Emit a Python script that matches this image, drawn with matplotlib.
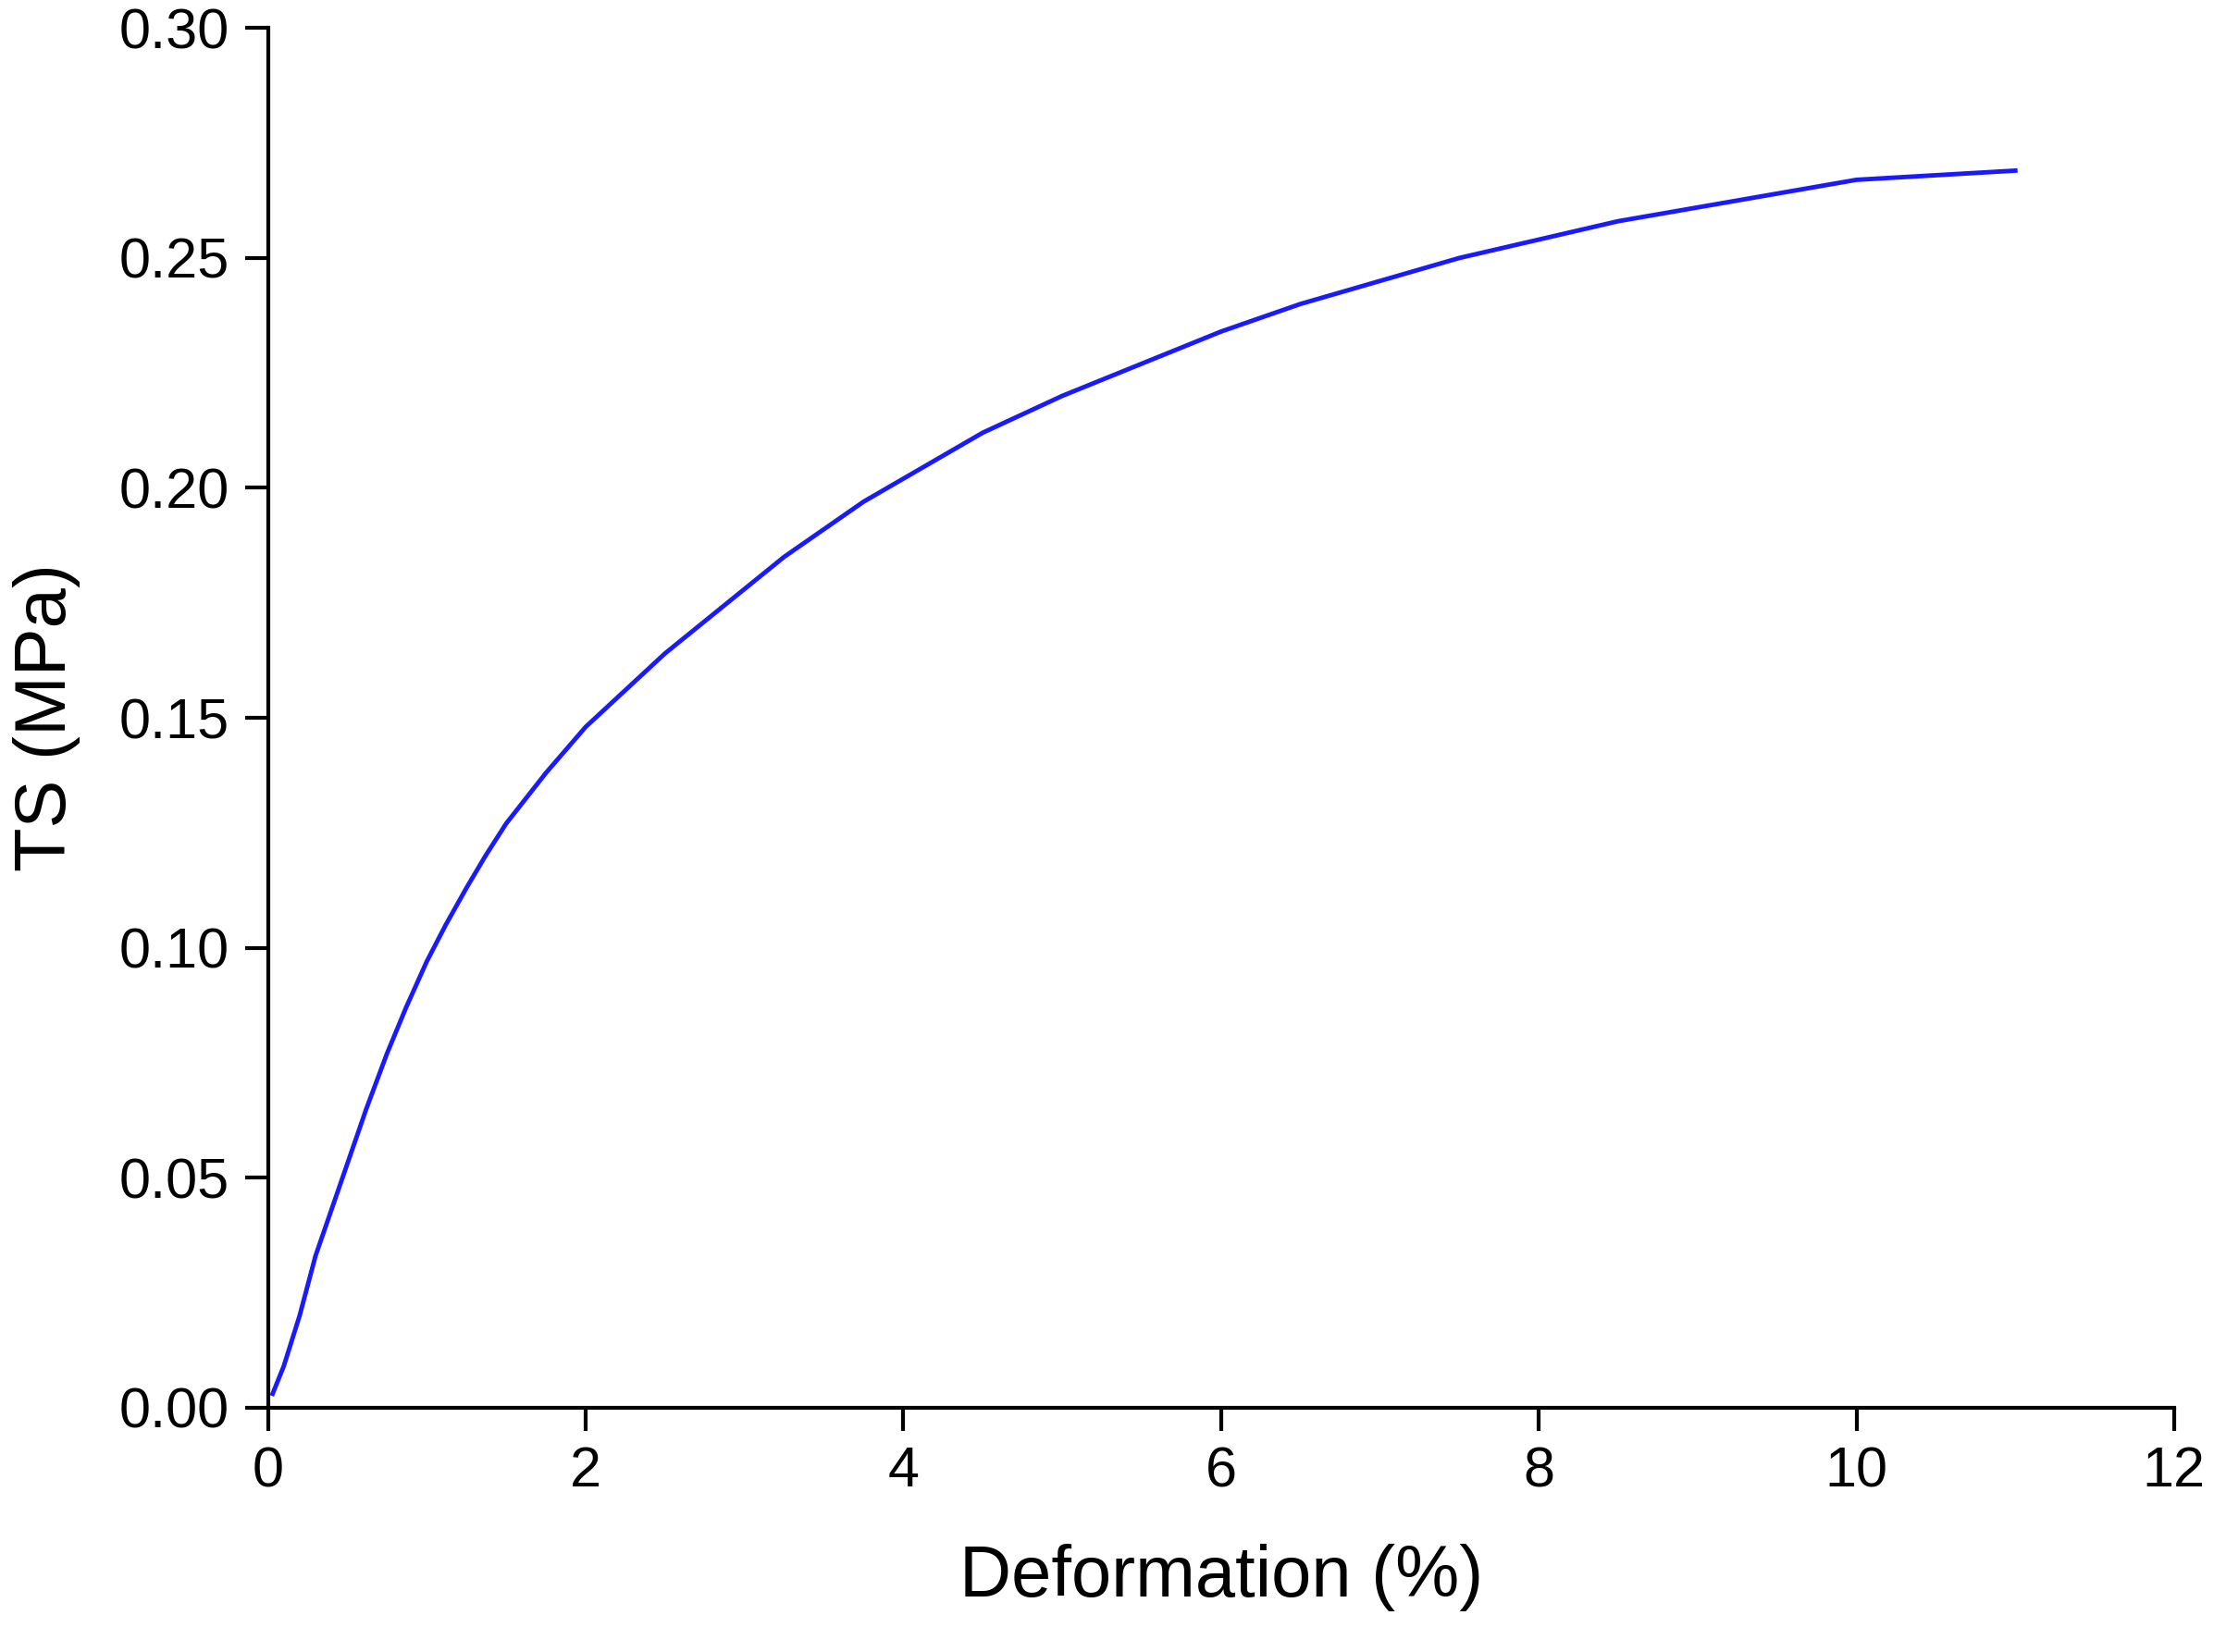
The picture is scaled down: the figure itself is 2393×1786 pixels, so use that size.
import matplotlib
matplotlib.use("Agg")
import matplotlib.pyplot as plt

plt.rcParams['font.family'] = ['Liberation Sans', 'DejaVu Sans']

deformation = [0.03, 0.1, 0.2, 0.3, 0.4, 0.5, 0.62, 0.75, 0.87, 1.0, 1.12, 1.25, 1.37, 1.5, 1.75, 2.0,
               2.25, 2.5, 2.75, 3.0, 3.25, 3.5, 3.75, 4.0, 4.25, 4.5, 4.75, 5.0, 5.5, 6.0, 6.5,
               7.0, 7.5, 8.0, 8.5, 9.0, 9.5, 10.0, 10.5, 11.0]
ts = [0.003, 0.009, 0.020, 0.033, 0.043, 0.053, 0.065, 0.077, 0.087, 0.097, 0.105, 0.113, 0.120,
      0.127, 0.138, 0.148, 0.156, 0.164, 0.171, 0.178, 0.185, 0.191, 0.197, 0.202, 0.207,
      0.212, 0.216, 0.220, 0.227, 0.234, 0.240, 0.245, 0.250, 0.254, 0.258, 0.261, 0.264,
      0.267, 0.268, 0.269]

fig = plt.figure(figsize=(23.93, 17.86), dpi=100)
ax = fig.add_axes([0.121, 0.148, 0.861, 0.835])
ax.plot(deformation, ts, color='#1a1aff', lw=3.5)
ax.set_xlim(0, 12)
ax.set_ylim(0, 0.30)
ax.set_xticks(range(0, 13, 2))
ax.set_yticks([0, 0.05, 0.10, 0.15, 0.20, 0.25, 0.30])
ax.set_yticklabels([f"{v:.2f}" for v in ax.get_yticks()])
for s in ['top', 'right']:
    ax.spines[s].set_visible(False)
for s in ['left', 'bottom']:
    ax.spines[s].set_linewidth(3)
ax.tick_params(direction='out', length=18, width=3, labelsize=44, pad=12)
ax.set_xlabel('Deformation (%)', fontsize=56, labelpad=35)
ax.set_ylabel('TS (MPa)', fontsize=56, labelpad=30)
fig.savefig('out.png', dpi=100)
